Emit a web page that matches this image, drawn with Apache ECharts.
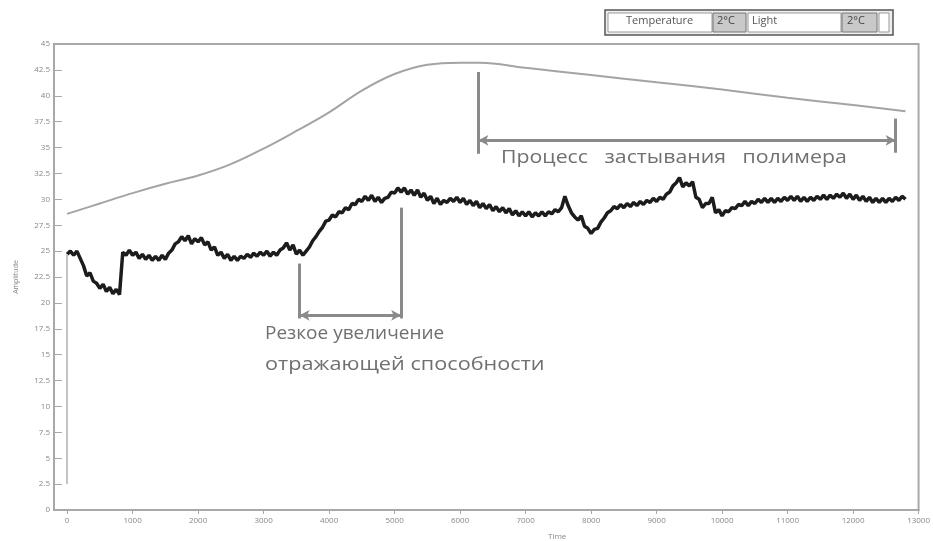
<!DOCTYPE html>
<html>
<head>
<meta charset="utf-8">
<script src="https://cdn.jsdelivr.net/npm/echarts@6/dist/echarts.min.js"></script>
<style>html,body{margin:0;padding:0;background:#fff;}#c{width:933px;height:541px;}</style>
</head>
<body>
<div id="c"></div>
<script>
// ---- data ----
const xTicks = [0,1000,2000,3000,4000,5000,6000,7000,8000,9000,10000,11000,12000,13000];
const yTicks = [0,2.5,5,7.5,10,12.5,15,17.5,20,22.5,25,27.5,30,32.5,35,37.5,40,42.5,45];

const tempTime = [0,500,1000,1500,2000,2500,3000,3500,4000,4500,5000,5500,6000,6300,7000,8000,9000,10000,11000,12000,12800];
const tempValues = [28.6,29.6,30.6,31.5,32.3,33.4,34.9,36.6,38.4,40.5,42.1,43.0,43.2,43.2,42.7,42.0,41.3,40.6,39.8,39.1,38.5];

const lightStart = 0, lightStep = 50;
const lightValues = [
 24.7,25.0,24.6,25.0,24.3,23.6,22.6,22.9,22.1,21.9,
 21.4,21.8,21.1,21.5,20.9,21.3,20.8,24.9,24.6,25.1,
 24.6,24.9,24.3,24.7,24.2,24.6,24.1,24.5,24.1,24.6,
 24.2,24.8,25.1,25.7,25.9,26.4,26.0,26.5,25.7,26.2,
 25.9,26.3,25.6,25.9,25.1,25.4,24.6,24.9,24.3,24.7,
 24.1,24.5,24.1,24.5,24.3,24.7,24.4,24.8,24.5,24.9,
 24.6,25.0,24.5,24.9,24.6,25.1,25.3,25.8,25.1,25.6,
 24.7,25.1,24.6,25.0,25.4,26.0,26.4,26.9,27.3,27.9,
 28.0,28.5,28.3,28.8,28.7,29.2,29.0,29.6,29.5,30.0,
 29.8,30.3,29.9,30.4,29.8,30.2,29.7,30.1,30.2,30.7,
 30.6,31.1,30.7,31.1,30.5,30.9,30.4,30.9,30.2,30.6,
 29.9,30.3,29.6,30.1,29.5,29.9,29.7,30.1,29.8,30.2,
 29.7,30.1,29.5,29.9,29.4,29.8,29.2,29.6,29.1,29.5,
 28.9,29.3,28.8,29.2,28.7,29.1,28.5,28.9,28.4,28.8,
 28.4,28.8,28.3,28.7,28.4,28.8,28.4,28.8,28.6,29.0,
 28.8,29.2,30.3,29.4,28.7,28.3,28.0,28.4,27.4,27.2,
 26.7,27.1,27.2,27.8,28.2,28.7,28.9,29.3,29.1,29.5,
 29.2,29.6,29.3,29.7,29.4,29.8,29.5,29.9,29.7,30.1,
 29.8,30.2,30.0,30.5,30.7,31.3,31.6,32.1,31.2,31.6,
 31.3,31.7,30.2,30.0,29.2,29.6,29.6,30.2,28.7,29.0,
 28.4,28.9,28.8,29.2,29.1,29.5,29.4,29.8,29.4,29.8,
 29.6,30.0,29.7,30.1,29.7,30.1,29.7,30.1,29.8,30.2,
 29.9,30.3,29.9,30.3,29.8,30.2,29.8,30.2,29.9,30.3,
 30.0,30.4,30.0,30.4,30.1,30.5,30.2,30.6,30.1,30.5,
 30.0,30.4,29.9,30.3,29.8,30.2,29.7,30.1,29.7,30.1,
 29.7,30.1,29.8,30.2,29.9,30.3,30.0
];

// annotation segments [x1,y1,x2,y2] in data units
const startLine = [0,24.7,0,2.5];
const sharpRiseLines = [[3550,23.8,3550,18.5],[5100,29.2,5100,18.5]];
const sharpRiseArrow = [3550,18.8,5100,18.8];
const solidifyLines = [[6280,42.3,6280,34.4],[12650,37.8,12650,34.5]];
const solidifyArrow = [6280,35.7,12650,35.7];

const textSharp1 = 'Резкое увеличение';
const textSharp2 = 'отражающей способности';
const textSolid = 'Процесс   застывания   полимера';
const legendNames = ['Temperature','Light'];
const unitText = '2°C';
const xName = 'Time';
const yName = 'Amplitude';

// ---- build ----
const tempData = tempTime.map((t,i)=>[t,tempValues[i]]);
const lightData = lightValues.map((v,i)=>[lightStart+i*lightStep, v]);
const seg = s => [{coord:[s[0],s[1]]},{coord:[s[2],s[3]]}];

const chart = echarts.init(document.getElementById('c'));
const FONT = '"Open Sans", "Noto Sans", sans-serif';
chart.setOption({
  animation:false,
  backgroundColor:'#fff',
  grid:{left:54,right:6,top:44,bottom:31,show:true,borderColor:'#a8a8a8',borderWidth:2},
  xAxis:{
    type:'value',min:-200,max:13000,
    axisLine:{show:true,onZero:false,lineStyle:{color:'#a8a8a8',width:2}},
    axisTick:{show:true,customValues:xTicks,length:4,lineStyle:{color:'#a8a8a8'}},
    axisLabel:{customValues:xTicks,fontSize:8,color:'#888',margin:7,fontFamily:FONT,formatter:v=>String(v)},
    splitLine:{show:false}
  },
  yAxis:{
    type:'value',min:0,max:45,interval:2.5,
    name:yName,nameLocation:'middle',nameGap:35,nameTextStyle:{fontSize:7,color:'#888',fontFamily:FONT},
    axisLine:{show:true,onZero:false,lineStyle:{color:'#a8a8a8',width:2}},
    axisTick:{show:true,inside:true,length:8,lineStyle:{color:'#a8a8a8'}},
    axisLabel:{fontSize:8,color:'#888',margin:4,fontFamily:FONT,formatter:v=>String(v)},
    splitLine:{show:false}
  },
  series:[
    {name:legendNames[0],type:'line',data:tempData,smooth:0.4,showSymbol:false,
     lineStyle:{color:'#a4a4a4',width:2}},
    {name:legendNames[1],type:'line',data:lightData,showSymbol:false,
     lineStyle:{color:'#1c1c1c',width:3.5}},
    {type:'line',data:[],silent:true,
     markLine:{silent:true,symbol:['none','none'],label:{show:false},
       lineStyle:{color:'#c4c4c4',width:2,type:'solid'},
       data:[seg(startLine)]}},
    {type:'line',data:[],silent:true,
     markLine:{silent:true,symbol:['none','none'],label:{show:false},
       lineStyle:{color:'#8a8a8a',width:3,type:'solid'},
       data:[...sharpRiseLines.map(seg),...solidifyLines.map(seg)]}},
    {type:'line',data:[],silent:true,
     markLine:{silent:true,symbol:['arrow','arrow'],symbolSize:[8,10],label:{show:false},
       lineStyle:{color:'#8a8a8a',width:3,type:'solid'},
       data:[seg(sharpRiseArrow),seg(solidifyArrow)]}}
  ],
  graphic:[
    {type:'text',x:265,y:324,style:{text:textSharp1,fontSize:19,fill:'#707070',fontFamily:FONT}},
    {type:'text',x:265,y:355,scaleX:1.14,style:{text:textSharp2,fontSize:19,fill:'#707070',fontFamily:FONT}},
    {type:'text',x:501,y:148,scaleX:1.12,style:{text:textSolid,fontSize:19,fill:'#707070',fontFamily:FONT}},
    // legend box
    {type:'rect',shape:{x:605,y:10,width:288,height:25},style:{fill:'#eeeeee',stroke:'#555',lineWidth:1.5}},
    {type:'rect',shape:{x:608,y:13,width:104,height:19},style:{fill:'#fff',stroke:'#999',lineWidth:1}},
    {type:'rect',shape:{x:713,y:13,width:33,height:19},style:{fill:'#c9c9c9',stroke:'#777',lineWidth:1}},
    {type:'rect',shape:{x:748,y:13,width:93,height:19},style:{fill:'#fff',stroke:'#999',lineWidth:1}},
    {type:'rect',shape:{x:842,y:13,width:35,height:19},style:{fill:'#c9c9c9',stroke:'#777',lineWidth:1}},
    {type:'rect',shape:{x:879,y:13,width:10,height:19},style:{fill:'#fff',stroke:'#999',lineWidth:1}},
    {type:'text',x:626,y:15,style:{text:legendNames[0],fontSize:11,fill:'#555',fontFamily:FONT}},
    {type:'text',x:717,y:15,style:{text:unitText,fontSize:11,fill:'#444',fontFamily:FONT}},
    {type:'text',x:752,y:15,style:{text:legendNames[1],fontSize:11,fill:'#555',fontFamily:FONT}},
    {type:'text',x:847,y:15,style:{text:unitText,fontSize:11,fill:'#444',fontFamily:FONT}},
    {type:'text',x:548,y:533,style:{text:xName,fontSize:8,fill:'#888',fontFamily:FONT}}
  ]
});
</script>
</body>
</html>
